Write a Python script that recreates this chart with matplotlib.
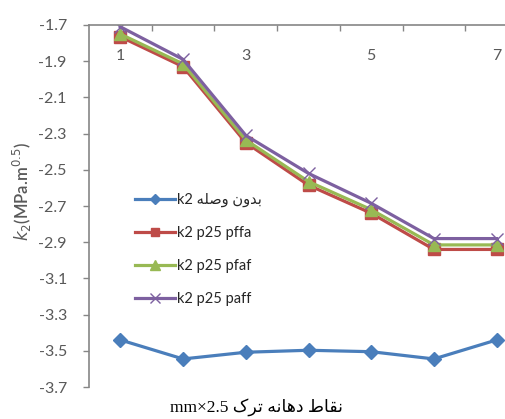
"""k2 along the crack-mouth points for the unjointed case and three joint layouts."""

import matplotlib
matplotlib.use("Agg")
import matplotlib.pyplot as plt
from matplotlib.ticker import FixedLocator, FormatStrFormatter

# crack-mouth points (category axis)
points = [1, 2, 3, 4, 5, 6, 7]
tick_labels = ["1", "", "3", "", "5", "", "7"]

k2_plain = [-3.44, -3.545, -3.508, -3.497, -3.505, -3.545, -3.44]
k2_pffa = [-1.765, -1.93, -2.35, -2.585, -2.74, -2.94, -2.94]
k2_pfaf = [-1.75, -1.915, -2.335, -2.565, -2.72, -2.915, -2.915]
k2_paff = [-1.71, -1.89, -2.31, -2.52, -2.685, -2.88, -2.88]

series_names = ["k2 بدون وصله", "k2 p25 pffa", "k2 p25 pfaf", "k2 p25 paff"]
x_label = "نقاط دهانه ترک"
x_label_unit = "mm×2.5"

# matplotlib has no Arabic shaping, so pick the presentation forms by hand
# (isolated, final, initial, medial); None = letter does not join to the left
FORMS = {
    "ا": (0xFE8D, 0xFE8E, None, None),
    "ب": (0xFE8F, 0xFE90, 0xFE91, 0xFE92),
    "ت": (0xFE95, 0xFE96, 0xFE97, 0xFE98),
    "د": (0xFEA9, 0xFEAA, None, None),
    "ر": (0xFEAD, 0xFEAE, None, None),
    "ص": (0xFEB9, 0xFEBA, 0xFEBB, 0xFEBC),
    "ط": (0xFEC1, 0xFEC2, 0xFEC3, 0xFEC4),
    "ق": (0xFED5, 0xFED6, 0xFED7, 0xFED8),
    "ک": (0xFB8E, 0xFB8F, 0xFB90, 0xFB91),
    "ل": (0xFEDD, 0xFEDE, 0xFEDF, 0xFEE0),
    "ن": (0xFEE5, 0xFEE6, 0xFEE7, 0xFEE8),
    "ه": (0xFEE9, 0xFEEA, 0xFEEB, 0xFEEC),
    "و": (0xFEED, 0xFEEE, None, None),
}


def shape_rtl(text):
    """Return an Arabic run in visual (left-to-right) order with joined forms."""
    out = []
    for i, ch in enumerate(text):
        if ch not in FORMS:
            out.append(ch)
            continue
        prev = text[i - 1] if i > 0 else ""
        nxt = text[i + 1] if i + 1 < len(text) else ""
        join_prev = prev in FORMS and FORMS[prev][2] is not None
        join_next = FORMS[ch][2] is not None and nxt in FORMS
        iso, fin, ini, med = FORMS[ch]
        if join_prev and join_next:
            code = med
        elif join_prev:
            code = fin
        elif join_next:
            code = ini
        else:
            code = iso
        out.append(chr(code))
    return "".join(reversed(out))


def visual(label):
    if label.startswith("k2 ") and any(c in FORMS for c in label):
        return "k2 " + shape_rtl(label[3:])
    return label


def main():
    plt.rcParams["axes.unicode_minus"] = False
    gray = "#868686"
    text_gray = "#595959"

    fig = plt.figure(figsize=(5.05, 4.19), dpi=100)
    ax = fig.add_axes([89 / 505, 32 / 419, 439 / 505, 362 / 419])

    styles = [
        dict(color="#4A7EBB", marker="D", ms=7),
        dict(color="#BE4B48", marker="s", ms=8),
        dict(color="#98B954", marker="^", ms=9),
        dict(color="#7D60A0", marker="x", ms=9, mew=1.0),
    ]
    for vals, name, st in zip([k2_plain, k2_pffa, k2_pfaf, k2_paff], series_names, styles):
        ax.plot(points, vals, lw=2.3, label=visual(name), **st)

    ax.set_xlim(0.5, 7.5)
    ax.set_ylim(-3.7, -1.7)
    ax.set_yticks([-1.7 - 0.2 * i for i in range(11)])
    ax.yaxis.set_major_formatter(FormatStrFormatter("%.1f"))

    # Excel-style category axis crossing at the top, labels just below it
    ax.xaxis.set_major_locator(FixedLocator(points))
    ax.set_xticklabels(tick_labels)
    ax.xaxis.set_minor_locator(FixedLocator([p + 0.5 for p in points]))
    ax.tick_params(axis="x", which="major", top=True, bottom=False, length=0,
                   labeltop=True, labelbottom=False, pad=-27,
                   labelsize=11.5, labelcolor=text_gray)
    ax.tick_params(axis="x", which="minor", top=True, bottom=False,
                   direction="in", length=4, width=1, color=gray)
    ax.tick_params(axis="y", direction="out", length=4, width=1, color=gray,
                   pad=12, labelsize=11.5, labelcolor=text_gray)
    for lbl in ax.get_xticklabels() + ax.get_yticklabels():
        lbl.set_family("Lato")

    ax.spines["bottom"].set_visible(False)
    ax.spines["right"].set_visible(False)
    for side in ("top", "left"):
        ax.spines[side].set_color(gray)
        ax.spines[side].set_linewidth(1.2)

    fig.text(22 / 505, 1 - 192 / 419, "$k_2$(MPa.m$^{0.5}$)", rotation=90,
             ha="center", va="center", fontsize=12, color=text_gray,
             family="Lato", weight="semibold")
    fig.text(256 / 505, 1 - 407 / 419, x_label_unit + " " + shape_rtl(x_label),
             ha="center", va="center", fontsize=12.5, color="black",
             family=["Liberation Serif", "DejaVu Sans"])

    leg = ax.legend(loc="upper left", frameon=False,
                    prop={"family": ["Lato", "DejaVu Sans"], "size": 10.5},
                    handlelength=2.7, handletextpad=0.15, labelspacing=1.3,
                    markerscale=0.8)
    for txt in leg.get_texts():
        txt.set_color("#262626")
    leg.set_bbox_to_anchor((122 / 505, 1 - 180 / 419), transform=fig.transFigure)

    fig.savefig("out.png", dpi=100)
    plt.close(fig)


if __name__ == "__main__":
    main()
